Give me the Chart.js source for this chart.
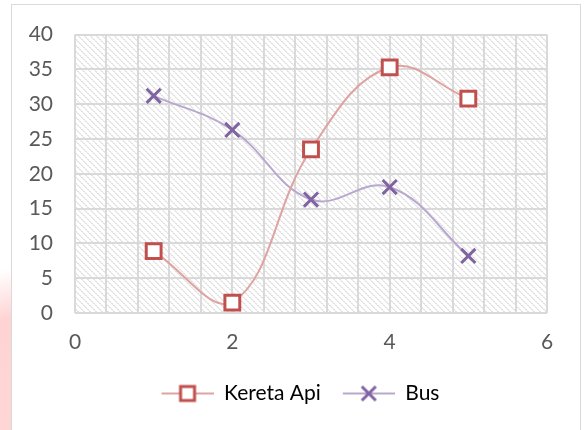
<!DOCTYPE html>
<html>
<head>
<meta charset="utf-8">
<script src="https://cdn.jsdelivr.net/npm/chart.js@4/dist/chart.umd.min.js"></script>
<style>
  html, body { margin: 0; padding: 0; background: #fff; }
  body { width: 584px; height: 430px; position: relative; overflow: hidden; }
  .frame { position: absolute; left: 11px; top: 4px; width: 570px; height: 440px;
           border: 1.5px solid #d9d9d9; box-sizing: border-box; }
  .mark { position: absolute; left: 0; top: 230px; width: 12px; height: 200px;
          background: linear-gradient(170deg, rgba(255,255,255,0) 20%, #ffd3d3 45%, #ffd6d6 100%); }
  canvas { position: absolute; left: 0; top: 0; }
</style>
</head>
<body>
<div class="mark"></div>
<div class="frame"></div>
<canvas id="c" width="584" height="430"></canvas>
<script>
const xValues = [1, 2, 3, 4, 5];
const keretaApi = [8.9, 1.5, 23.5, 35.3, 30.8];
const bus = [31.2, 26.3, 16.3, 18.1, 8.2];
const seriesNames = ['Kereta Api', 'Bus'];
const xTickLabels = [0, 2, 4, 6];
const yTickLabels = [0, 5, 10, 15, 20, 25, 30, 35, 40];

const RED = '#c0504d', RED_LINE = '#dfa3a1';
const PURPLE = '#8064a2', PURPLE_LINE = '#b8a8cf';
const FONT = 'Lato';
const FONT_SIZE = 21;

// hatched plot background (light dotted diagonal stripes)
function hatch() {
  const n = 6;
  const c = document.createElement('canvas');
  c.width = n; c.height = n;
  const g = c.getContext('2d');
  g.fillStyle = '#fff'; g.fillRect(0, 0, n, n);
  for (let y = 0; y < n; y++) {
    for (let x = 0; x < n; x++) {
      const d = ((x - y) % n + n) % n;
      if (d === 0) { g.fillStyle = (x % 2) ? '#e0e0e0' : '#ebebeb'; g.fillRect(x, y, 1, 1); }
      if (d === 1) { g.fillStyle = (x % 2) ? '#f1f1f1' : '#e3e3e3'; g.fillRect(x, y, 1, 1); }
    }
  }
  return c;
}

// legend sample: blank margin on the left, then line with marker
function legendIcon(kind) {
  const c = document.createElement('canvas');
  c.width = 62; c.height = 22;
  const g = c.getContext('2d');
  g.lineWidth = 2;
  g.strokeStyle = kind === 'rect' ? RED_LINE : PURPLE_LINE;
  g.beginPath(); g.moveTo(10, 11); g.lineTo(62, 11); g.stroke();
  g.lineWidth = 3;
  if (kind === 'rect') {
    g.fillStyle = '#fff'; g.strokeStyle = RED;
    g.fillRect(29, 4, 14, 14); g.strokeRect(29, 4, 14, 14);
  } else {
    g.strokeStyle = PURPLE;
    g.beginPath();
    g.moveTo(29, 4); g.lineTo(43, 18);
    g.moveTo(43, 4); g.lineTo(29, 18);
    g.stroke();
  }
  return c;
}

const bgPlugin = {
  id: 'bg',
  afterLayout(chart) {
    // nudge legend to the right like the original
    if (chart.legend) { chart.legend.left += 22; chart.legend.right += 22; }
  },
  beforeDraw(chart) {
    const { ctx, chartArea: a } = chart;
    ctx.save();
    ctx.fillStyle = ctx.createPattern(hatch(), 'repeat');
    ctx.fillRect(a.left, a.top, a.right - a.left, a.bottom - a.top);
    ctx.restore();
  }
};

const icons = [legendIcon('rect'), legendIcon('cross')];

new Chart(document.getElementById('c'), {
  type: 'line',
  data: {
    datasets: [
      {
        label: seriesNames[0],
        data: xValues.map((x, i) => ({ x, y: keretaApi[i] })),
        borderColor: RED_LINE, borderWidth: 2,
        pointStyle: 'rect', pointRadius: 10.5, pointBorderWidth: 3,
        pointBorderColor: RED, pointBackgroundColor: '#fff',
        tension: 0.4, fill: false
      },
      {
        label: seriesNames[1],
        data: xValues.map((x, i) => ({ x, y: bus[i] })),
        borderColor: PURPLE_LINE, borderWidth: 2,
        pointStyle: 'crossRot', pointRadius: 10, pointBorderWidth: 3,
        pointBorderColor: PURPLE, pointBackgroundColor: PURPLE,
        tension: 0.4, fill: false
      }
    ]
  },
  options: {
    responsive: false,
    animation: false,
    layout: { padding: { top: 33, right: 37, left: 0, bottom: 16 } },
    scales: {
      x: {
        type: 'linear', min: 0, max: 6,
        border: { display: false },
        grid: { color: '#d9d9d9', lineWidth: 2, drawTicks: false },
        ticks: {
          stepSize: 0.4, autoSkip: false, padding: 17,
          color: '#595959', font: { family: FONT, size: FONT_SIZE },
          callback: (v, i) => (i % 5 === 0 && xTickLabels.includes(Math.round(v))) ? Math.round(v) : ''
        },
        afterFit: s => { s.height = 58; }
      },
      y: {
        min: 0, max: 40,
        border: { display: false },
        grid: { color: '#d9d9d9', lineWidth: 2, drawTicks: false },
        ticks: {
          stepSize: 5, padding: 22,
          color: '#595959', font: { family: FONT, size: FONT_SIZE },
          callback: v => yTickLabels.includes(v) ? v : ''
        },
        afterFit: s => { s.width = 75; }
      }
    },
    plugins: {
      legend: {
        position: 'bottom',
        labels: {
          usePointStyle: true, pointStyleWidth: 62, padding: 12,
          color: '#595959', font: { family: FONT, size: FONT_SIZE },
          generateLabels: chart => chart.data.datasets.map((d, i) => ({
            text: d.label, pointStyle: icons[i], datasetIndex: i,
            fillStyle: '#fff', strokeStyle: '#fff', lineWidth: 0, hidden: false
          }))
        }
      },
      tooltip: { enabled: false }
    }
  },
  plugins: [bgPlugin]
});
</script>
</body>
</html>
